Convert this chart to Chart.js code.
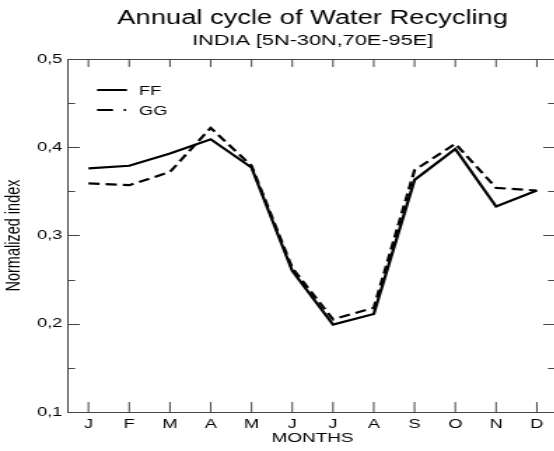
<!DOCTYPE html>
<html>
<head>
<meta charset="utf-8">
<script src="https://cdn.jsdelivr.net/npm/chart.js@4"></script>
<style>
  html, body { margin: 0; padding: 0; background: #fff; overflow: hidden; }
  /* the original figure is stretched sideways; draw narrow, then widen */
  #wrap { width: 400px; height: 451px; transform: scaleX(1.4); transform-origin: 0 0; }
  canvas { display: block; }
</style>
</head>
<body>
<div id="wrap"><canvas id="chart" width="400" height="451"></canvas></div>
<script>
// months on the x axis
const months = ["J", "F", "M", "A", "M", "J", "J", "A", "S", "O", "N", "D"];
// normalized water recycling index
const ffValues = [0.376, 0.379, 0.393, 0.409, 0.377, 0.260, 0.199, 0.211, 0.363, 0.398, 0.333, 0.351];
const ggValues = [0.359, 0.357, 0.372, 0.422, 0.379, 0.263, 0.205, 0.218, 0.374, 0.404, 0.354, 0.351];
const yTicks = [0.1, 0.2, 0.3, 0.4, 0.5];

const axisColor = "#444";
const font = "'Liberation Sans', Arial, sans-serif";

// inward tick marks on all four sides + legend, drawn over the chart
const frameTicks = {
  id: "frameTicks",
  afterDraw(chart) {
    const ctx = chart.ctx;
    const area = chart.chartArea;
    const x = chart.scales.x;
    const y = chart.scales.y;
    ctx.save();
    ctx.strokeStyle = axisColor;
    ctx.lineWidth = 1;
    ctx.beginPath();
    // top and right frame lines
    ctx.moveTo(area.left, area.top + 0.5);
    ctx.lineTo(area.right, area.top + 0.5);
    ctx.moveTo(area.right - 0.5, area.top);
    ctx.lineTo(area.right - 0.5, area.bottom);
    // month ticks, bottom and top
    months.forEach((m, i) => {
      const px = x.getPixelForValue(i);
      ctx.moveTo(px, area.bottom);
      ctx.lineTo(px, area.bottom - 10);
      ctx.moveTo(px, area.top);
      ctx.lineTo(px, area.top + 8);
    });
    // value ticks, major and minor, left and right
    for (let k = 2; k <= 10; k++) {
      const py = Math.round(y.getPixelForValue(k * 0.05)) + 0.5;
      const len = k % 2 === 0 ? 8.5 : 5;
      ctx.moveTo(area.left, py);
      ctx.lineTo(area.left + len, py);
      ctx.moveTo(area.right, py);
      ctx.lineTo(area.right - len - 1.5, py);
    }
    ctx.stroke();

    // legend
    const items = [
      { label: "FF", dash: [] },
      { label: "GG", dash: [11.4, 7.7, 1.6, 20] }
    ];
    ctx.strokeStyle = "#000";
    ctx.lineWidth = 2;
    ctx.fillStyle = "#000";
    ctx.font = "13px " + font;
    ctx.textBaseline = "middle";
    items.forEach((it, i) => {
      const ly = 90 + i * 20;
      ctx.setLineDash(it.dash);
      ctx.beginPath();
      ctx.moveTo(69.3, ly);
      ctx.lineTo(90.7, ly);
      ctx.stroke();
      ctx.fillText(it.label, 99.3, ly + 1);
    });
    ctx.restore();
  }
};

new Chart(document.getElementById("chart"), {
  type: "line",
  data: {
    labels: months,
    datasets: [
      {
        label: "FF",
        data: ffValues,
        borderColor: "#000",
        borderWidth: 2.2,
        pointRadius: 0,
        tension: 0,
        fill: false
      },
      {
        label: "GG",
        data: ggValues,
        borderColor: "#000",
        borderWidth: 2.2,
        borderDash: [8, 4.3],
        pointRadius: 0,
        tension: 0,
        fill: false
      }
    ]
  },
  options: {
    responsive: false,
    animation: false,
    layout: { padding: { left: 0, right: 2, top: 0, bottom: 0 } },
    plugins: {
      legend: { display: false },
      tooltip: { enabled: false },
      title: {
        display: true,
        fullSize: false,
        text: "Annual cycle of Water Recycling",
        color: "#000",
        font: { family: font, size: 19.5, weight: "normal" },
        padding: { top: 7, bottom: 1 }
      },
      subtitle: {
        display: true,
        fullSize: false,
        text: "INDIA [5N-30N,70E-95E]",
        color: "#000",
        font: { family: font, size: 15.5, weight: "normal" },
        padding: { top: 0, bottom: 9 }
      }
    },
    scales: {
      x: {
        type: "category",
        offset: true,
        grid: { display: false, tickLength: 0 },
        border: { display: true, color: axisColor, width: 1 },
        ticks: {
          color: "#000",
          padding: 5,
          maxRotation: 0,
          autoSkip: false,
          font: { family: font, size: 13 }
        },
        title: {
          display: true,
          text: "MONTHS",
          color: "#000",
          font: { family: font, size: 13.5 },
          padding: { top: 0, bottom: 5 }
        },
        afterFit(scale) { scale.height = 39; }
      },
      y: {
        min: 0.1,
        max: 0.5,
        grid: { display: false, tickLength: 0 },
        border: { display: true, color: axisColor, width: 1 },
        afterBuildTicks(scale) {
          scale.ticks = yTicks.map(v => ({ value: v }));
        },
        ticks: {
          color: "#000",
          padding: 4,
          font: { family: font, size: 13 },
          callback: v => v.toFixed(1).replace(".", ",")
        },
        title: {
          display: true,
          text: "Normalized index",
          color: "#000",
          font: { family: font, size: 14.5 },
          padding: { top: 1.5, bottom: 0 }
        },
        afterFit(scale) { scale.width = 48.6; }
      }
    }
  },
  plugins: [frameTicks]
});
</script>
</body>
</html>
